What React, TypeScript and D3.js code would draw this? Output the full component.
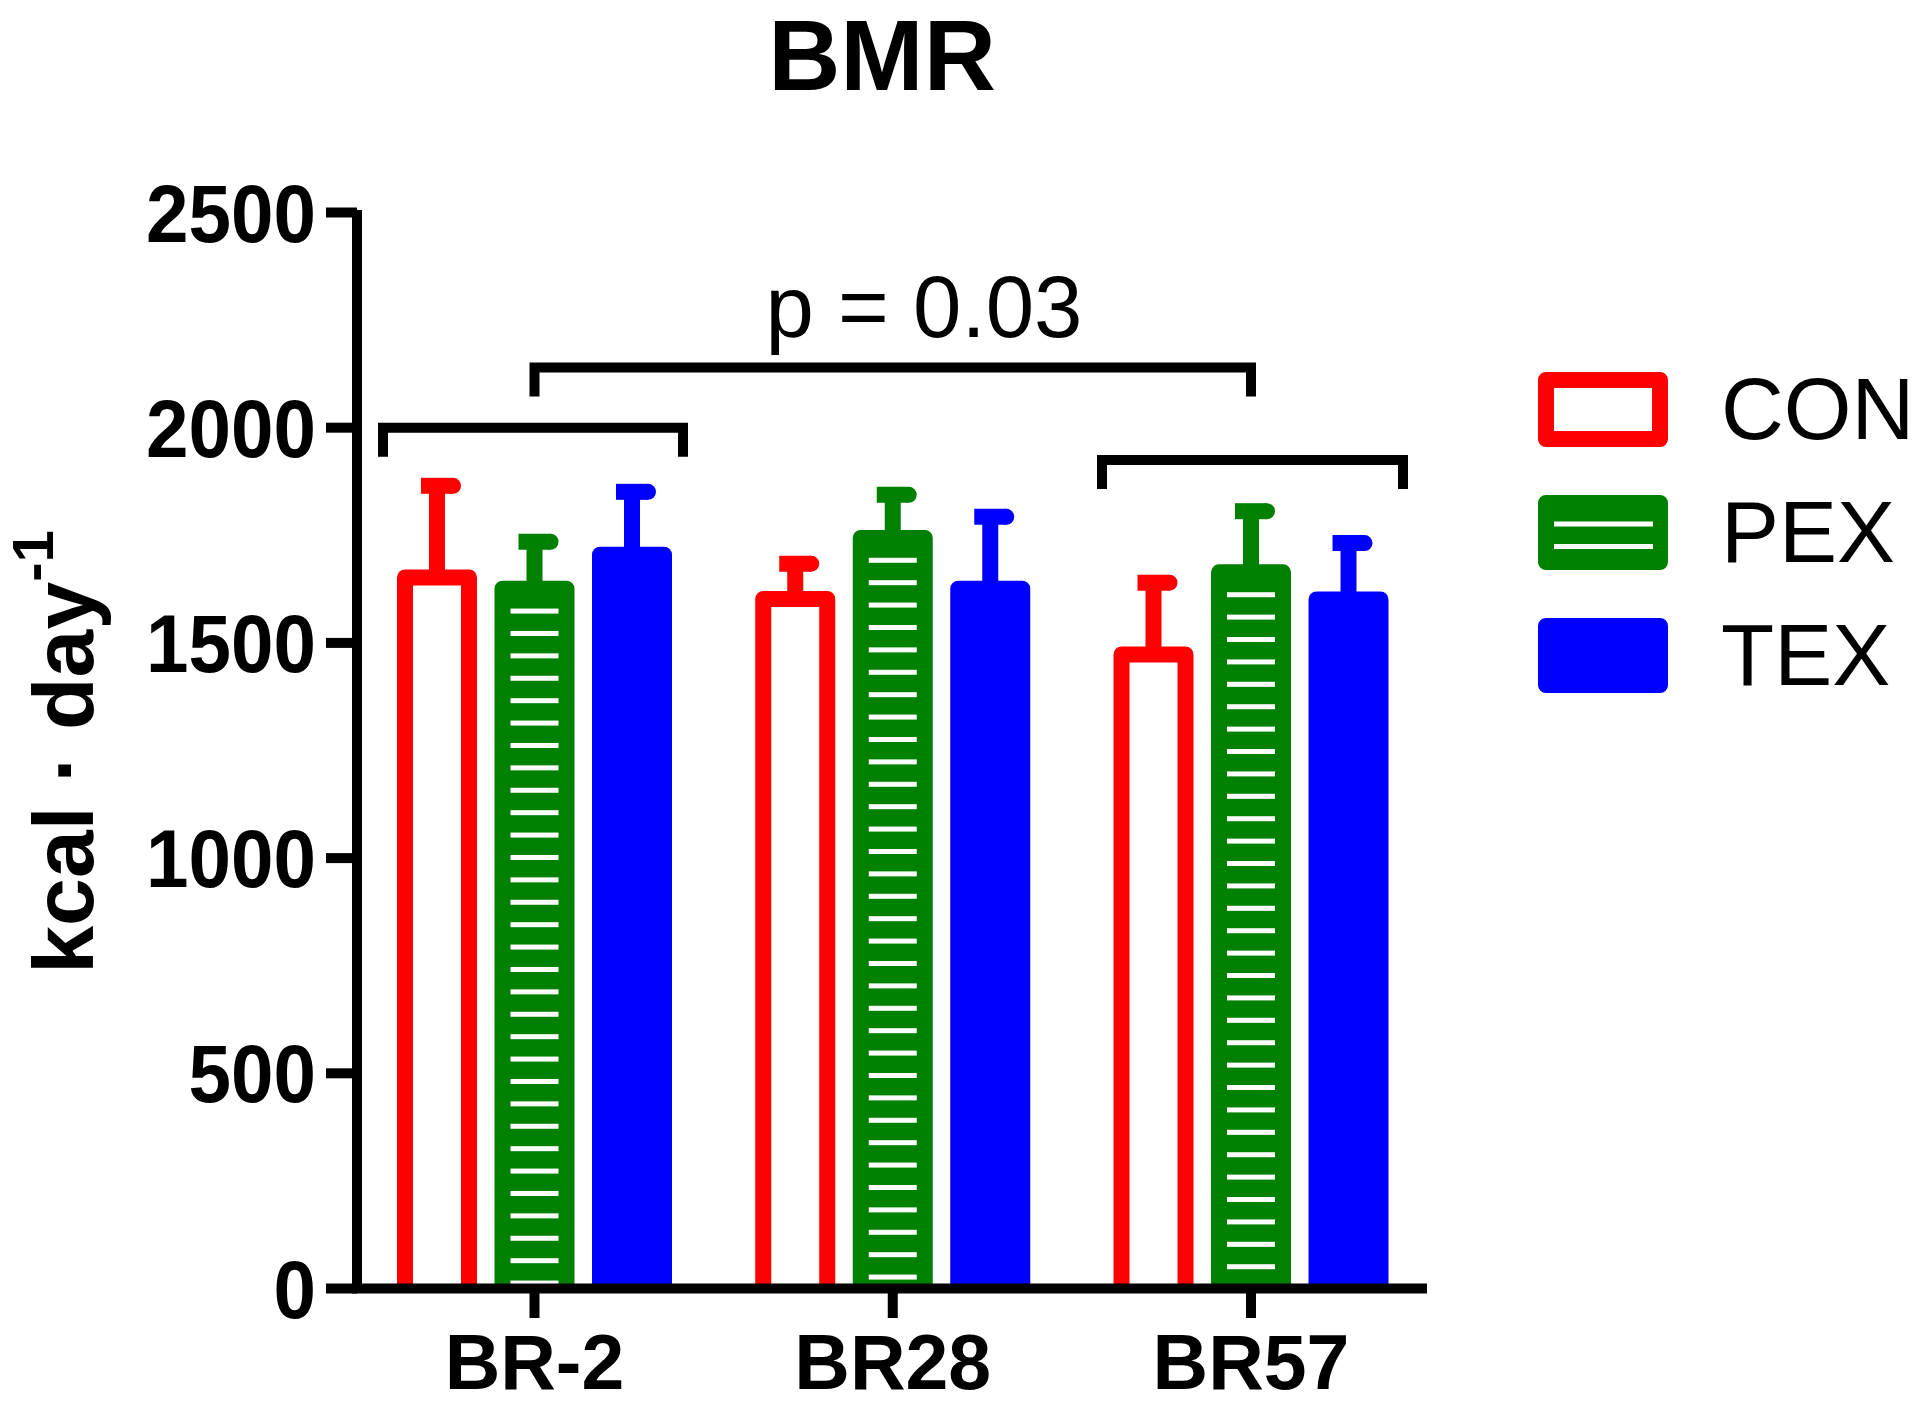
import React from "react";
import * as d3 from "d3";

const categories = ["BR-2", "BR28", "BR57"];
const seriesNames = ["CON", "PEX", "TEX"];
const seriesColors = ["#FF0000", "#008000", "#0000FF"];
const conMeans = [1652, 1602, 1473];
const conErrors = [213, 82, 167];
const pexMeans = [1626, 1744, 1664];
const pexErrors = [109, 100, 142];
const texMeans = [1705, 1626, 1601];
const texErrors = [146, 167, 131];
const yTickValues = [0, 500, 1000, 1500, 2000, 2500];
const titleText = "BMR";
const pText = "p = 0.03";

const FONT = "'Liberation Sans', Arial, Helvetica, sans-serif";

export default function App() {
  const y = d3.scaleLinear().domain([0, 2500]).range([1288.5, 212.5]);
  const x = d3.scalePoint<string>().domain(categories).range([534.5, 1251]);
  const sx = d3.scalePoint<string>().domain(seriesNames).range([-97.5, 97.5]);

  const means = [conMeans, pexMeans, texMeans];
  const errs = [conErrors, pexErrors, texErrors];
  const barW = 64;
  const sw = 16;
  const y0 = y(0);

  const bars: any[] = [];
  seriesNames.forEach((s, si) => {
    categories.forEach((c, ci) => {
      bars.push({
        s,
        si,
        c,
        cx: (x(c) as number) + (sx(s) as number),
        v: means[si][ci],
        e: errs[si][ci],
      });
    });
  });

  const brackets = [
    { x1: (x("BR-2") as number) - 151.5, x2: (x("BR-2") as number) + 148.5, v: 2000 },
    { x1: x("BR-2") as number, x2: x("BR57") as number, v: 2140 },
    { x1: (x("BR57") as number) - 149, x2: (x("BR57") as number) + 152, v: 1925 },
  ];

  return (
    <svg
      width={1920}
      height={1406}
      style={{ position: "absolute", left: 0, top: 0, background: "#fff" }}
      fontFamily={FONT}
    >
      <rect x={0} y={0} width={1920} height={1406} fill="#fff" />
      {/* title */}
      <text x={882} y={90} fontSize={100} fontWeight="bold" textAnchor="middle">
        {titleText}
      </text>

      {/* bars */}
      {bars.map((b, i) => {
        const top = y(b.v);
        const col = seriesColors[b.si];
        const fill = b.si === 0 ? "#fff" : col;
        const lines: number[] = [];
        if (b.si === 1) {
          for (let k = 1; top + k * 22.4 < y0 - 3; k++) lines.push(top + k * 22.4);
        }
        const l = b.cx - barW / 2;
        const r = b.cx + barW / 2;
        return (
          <g key={"b" + i}>
            <path
              d={`M${l},${y0} V${top} H${r} V${y0}`}
              fill={fill}
              stroke={col}
              strokeWidth={sw}
              strokeLinejoin="round"
            />
            {lines.map((ly, k) => (
              <rect key={k} x={b.cx - 24} y={ly - 2.5} width={48} height={5} fill="#fff" />
            ))}
            {/* error bar */}
            <line x1={b.cx} x2={b.cx} y1={top} y2={y(b.v + b.e)} stroke={col} strokeWidth={sw} />
            <line
              x1={b.cx - 16}
              x2={b.cx + 16}
              y1={y(b.v + b.e)}
              y2={y(b.v + b.e)}
              stroke={col}
              strokeWidth={sw}
            />
            <circle cx={b.cx + 16} cy={y(b.v + b.e)} r={8} fill={col} />
          </g>
        );
      })}

      {/* axes */}
      <line x1={357} x2={357} y1={210} y2={1293} stroke="#000" strokeWidth={10} />
      <line x1={352} x2={1427} y1={y0} y2={y0} stroke="#000" strokeWidth={10} />
      {yTickValues.map((t) => {
        const label = String(t);
        return (
          <g key={"yt" + t}>
            <line x1={326} x2={357} y1={y(t)} y2={y(t)} stroke="#000" strokeWidth={10} />
            <text
              x={316}
              y={y(t) + 29}
              fontSize={81}
              fontWeight="bold"
              textAnchor="end"
              textLength={42.5 * label.length}
              lengthAdjust="spacingAndGlyphs"
            >
              {label}
            </text>
          </g>
        );
      })}
      {categories.map((c) => (
        <g key={"xt" + c}>
          <line
            x1={x(c) as number}
            x2={x(c) as number}
            y1={y0}
            y2={1318}
            stroke="#000"
            strokeWidth={10}
          />
          <text x={x(c) as number} y={1389} fontSize={77} fontWeight="bold" textAnchor="middle">
            {c}
          </text>
        </g>
      ))}

      {/* y axis label */}
      <text
        transform="translate(93,752) rotate(-90)"
        fontSize={86}
        fontWeight="bold"
        textAnchor="middle"
      >
        {"kcal · day"}
        <tspan fontSize={58} dy={-40}>
          {"-1"}
        </tspan>
      </text>

      {/* brackets */}
      {brackets.map((br, i) => {
        const hy = y(br.v);
        return (
          <path
            key={"br" + i}
            d={`M${br.x1},${hy + 29} V${hy} H${br.x2} V${hy + 29}`}
            fill="none"
            stroke="#000"
            strokeWidth={10}
            strokeLinejoin="miter"
          />
        );
      })}
      <text x={924} y={337} fontSize={87} textAnchor="middle">
        {pText}
      </text>

      {/* legend */}
      {seriesNames.map((s, i) => {
        const ly = 380 + i * 123;
        const col = seriesColors[i];
        return (
          <g key={"lg" + s}>
            <rect
              x={1546}
              y={ly}
              width={114}
              height={59}
              fill={i === 0 ? "#fff" : col}
              stroke={col}
              strokeWidth={16}
              strokeLinejoin="round"
            />
            {i === 1 && (
              <>
                <rect x={1554} y={ly + 18.5} width={99} height={5} fill="#fff" />
                <rect x={1554} y={ly + 41} width={99} height={5} fill="#fff" />
              </>
            )}
            <text x={1721} y={ly + 59} fontSize={87}>
              {s}
            </text>
          </g>
        );
      })}
    </svg>
  );
}
